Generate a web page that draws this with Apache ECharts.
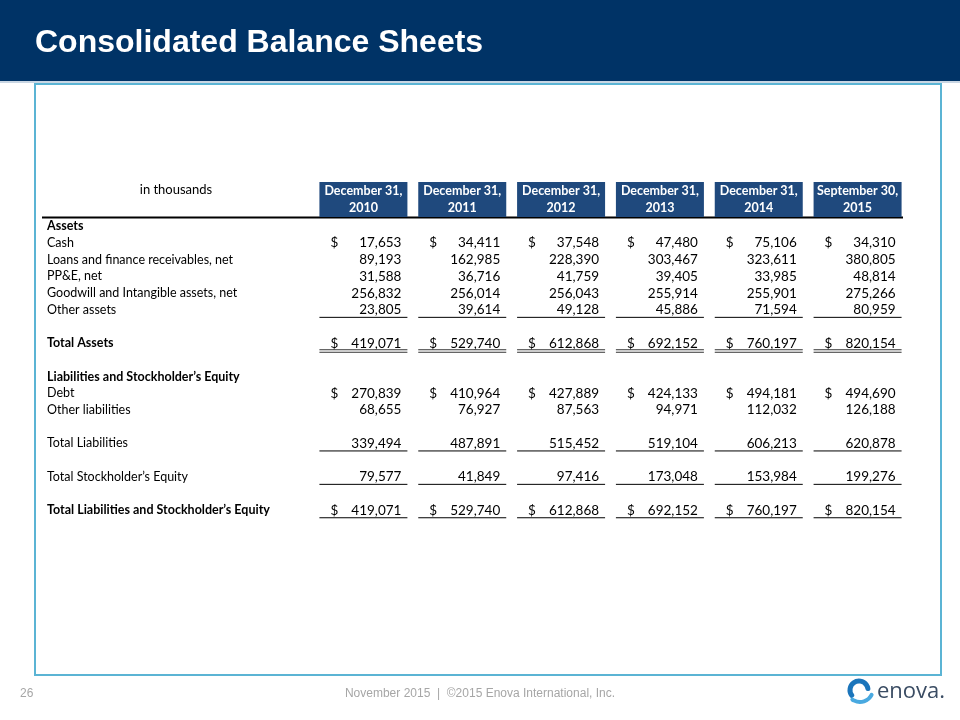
<!DOCTYPE html>
<html><head><meta charset="utf-8">
<script src="https://cdn.jsdelivr.net/npm/echarts@6/dist/echarts.min.js"></script>
<style>html,body{margin:0;padding:0;background:#fff}#c{width:960px;height:720px}</style>
</head><body><div id="c"></div>
<script>
// ---- data ----
const columns = ['December 31,\n2010','December 31,\n2011','December 31,\n2012','December 31,\n2013','December 31,\n2014','September 30,\n2015'];
const rowLabels = ['Assets','Cash','Loans and finance receivables, net','PP&E, net','Goodwill and Intangible assets, net','Other assets','','Total Assets','','Liabilities and Stockholder’s Equity','Debt','Other liabilities','','Total Liabilities','','Total Stockholder’s Equity','','Total Liabilities and Stockholder’s Equity'];
const boldRows = ['Assets','Total Assets','Liabilities and Stockholder’s Equity','Total Liabilities and Stockholder’s Equity'];
const cash = [17653,34411,37548,47480,75106,34310];
const loans = [89193,162985,228390,303467,323611,380805];
const ppe = [31588,36716,41759,39405,33985,48814];
const goodwill = [256832,256014,256043,255914,255901,275266];
const otherAssets = [23805,39614,49128,45886,71594,80959];
const totalAssets = [419071,529740,612868,692152,760197,820154];
const debt = [270839,410964,427889,424133,494181,494690];
const otherLiabilities = [68655,76927,87563,94971,112032,126188];
const totalLiabilities = [339494,487891,515452,519104,606213,620878];
const totalEquity = [79577,41849,97416,173048,153984,199276];
const totalLiabEquity = [419071,529740,612868,692152,760197,820154];
const dollarRows = ['Cash','Total Assets','Debt','Total Liabilities and Stockholder’s Equity'];
const singleLineRows = ['Other assets','Total Liabilities','Total Stockholder’s Equity','Total Liabilities and Stockholder’s Equity'];
const doubleLineRows = ['Total Assets'];

const rowValues = {
  'Cash': cash,
  'Loans and finance receivables, net': loans,
  'PP&E, net': ppe,
  'Goodwill and Intangible assets, net': goodwill,
  'Other assets': otherAssets,
  'Total Assets': totalAssets,
  'Debt': debt,
  'Other liabilities': otherLiabilities,
  'Total Liabilities': totalLiabilities,
  'Total Stockholder’s Equity': totalEquity,
  'Total Liabilities and Stockholder’s Equity': totalLiabEquity
};

const cells = [];
rowLabels.forEach((lab, r) => {
  const vals = rowValues[lab];
  if (!vals) return;
  vals.forEach((v, c) => cells.push([c, r, v]));
});

const FONT = 'Lato, "Open Sans", sans-serif';
const fmt = v => v.toLocaleString('en-US');

const chart = echarts.init(document.getElementById('c'), null, {renderer: 'canvas'});

chart.setOption({
  backgroundColor: '#ffffff',
  animation: false,
  grid: {left: 314, right: 53, top: 218, height: 300.6, outerBoundsMode: 'none', containLabel: false},
  xAxis: {
    type: 'category', position: 'top', data: columns,
    axisLine: {show: false}, axisTick: {show: false}, splitLine: {show: false},
    axisLabel: {
      interval: 0, margin: 1, color: '#ffffff', fontFamily: FONT, fontWeight: 'bold', fontSize: 12.5,
      backgroundColor: '#1F497D', width: 88, lineHeight: 17.5, padding: [0, 0, 0, 0], align: 'center'
    }
  },
  yAxis: {
    type: 'category', inverse: true, data: rowLabels,
    axisLine: {show: false}, axisTick: {show: false}, splitLine: {show: false},
    axisLabel: {
      interval: 0, margin: 267, align: 'left', color: '#000', fontFamily: FONT, fontSize: 12.5,
      formatter: v => boldRows.includes(v) ? '{b|' + v + '}' : v,
      rich: {b: {fontWeight: 'bold', fontFamily: FONT, fontSize: 12.5, color: '#000'}}
    }
  },
  series: [{
    type: 'custom',
    data: cells,
    renderItem: (params, api) => {
      const c = api.value(0), r = api.value(1), v = api.value(2);
      const lab = rowLabels[r];
      const p = api.coord([c, r]);
      const cx = p[0], cy = p[1];
      const half = 44;
      const ch = [];
      ch.push({type: 'text', style: {text: fmt(v), x: cx + 38, y: cy, align: 'right', verticalAlign: 'middle', fontFamily: FONT, fontSize: 13.5, fill: '#000'}});
      if (dollarRows.includes(lab)) {
        ch.push({type: 'text', style: {text: '$', x: cx - 33, y: cy, align: 'left', verticalAlign: 'middle', fontFamily: FONT, fontSize: 13.5, fill: '#000'}});
      }
      if (singleLineRows.includes(lab)) {
        ch.push({type: 'line', shape: {x1: cx - half, y1: cy + 7.5, x2: cx + half, y2: cy + 7.5}, style: {stroke: '#000', lineWidth: 1}});
      }
      if (doubleLineRows.includes(lab)) {
        ch.push({type: 'line', shape: {x1: cx - half, y1: cy + 6.5, x2: cx + half, y2: cy + 6.5}, style: {stroke: '#333', lineWidth: 1}});
        ch.push({type: 'line', shape: {x1: cx - half, y1: cy + 9, x2: cx + half, y2: cy + 9}, style: {stroke: '#333', lineWidth: 1}});
      }
      return {type: 'group', children: ch};
    }
  }],
  graphic: [
    {type: 'rect', shape: {x: 0, y: 0, width: 960, height: 81}, style: {fill: '#003366'}, z: -1},
    {type: 'rect', shape: {x: 0, y: 81, width: 960, height: 2}, style: {fill: '#C9D6E3'}, z: -1},
    {type: 'text', style: {text: 'Consolidated Balance Sheets', x: 35, y: 43, verticalAlign: 'middle', fontFamily: '"Liberation Sans", Arial, sans-serif', fontWeight: 'bold', fontSize: 32, fill: '#ffffff'}},
    {type: 'rect', shape: {x: 35, y: 84, width: 906, height: 591}, style: {fill: 'none', stroke: '#5BB4D4', lineWidth: 2}},
    {type: 'text', style: {text: 'in thousands', x: 176, y: 190, align: 'center', verticalAlign: 'middle', fontFamily: FONT, fontSize: 13, fill: '#000'}},
    {type: 'line', shape: {x1: 42, y1: 217.5, x2: 903, y2: 217.5}, style: {stroke: '#000', lineWidth: 2}},
    {type: 'text', style: {text: '26', x: 20, y: 694, verticalAlign: 'middle', fontFamily: '"Liberation Sans", Arial, sans-serif', fontSize: 12, fill: '#A6A6A6'}},
    {type: 'text', style: {text: 'November 2015  |  ©2015 Enova International, Inc.', x: 480, y: 694, align: 'center', verticalAlign: 'middle', fontFamily: '"Liberation Sans", Arial, sans-serif', fontSize: 12, fill: '#A6A6A6'}},
    {type: 'arc', shape: {cx: 859, cy: 690, r: 9, startAngle: Math.PI * 0.8, endAngle: Math.PI * 1.95, clockwise: true}, style: {stroke: '#1B75BB', lineWidth: 5, fill: 'none', lineCap: 'round'}},
    {type: 'arc', shape: {cx: 860, cy: 689, r: 13, startAngle: Math.PI * 0.15, endAngle: Math.PI * 0.7, clockwise: true}, style: {stroke: '#49A9E0', lineWidth: 4, fill: 'none', lineCap: 'round'}},
    {type: 'text', style: {text: 'enova.', x: 877, y: 692, verticalAlign: 'middle', fontFamily: '"Open Sans", sans-serif', fontSize: 22, fill: '#3A4C63'}}
  ]
});
</script>
</body></html>
